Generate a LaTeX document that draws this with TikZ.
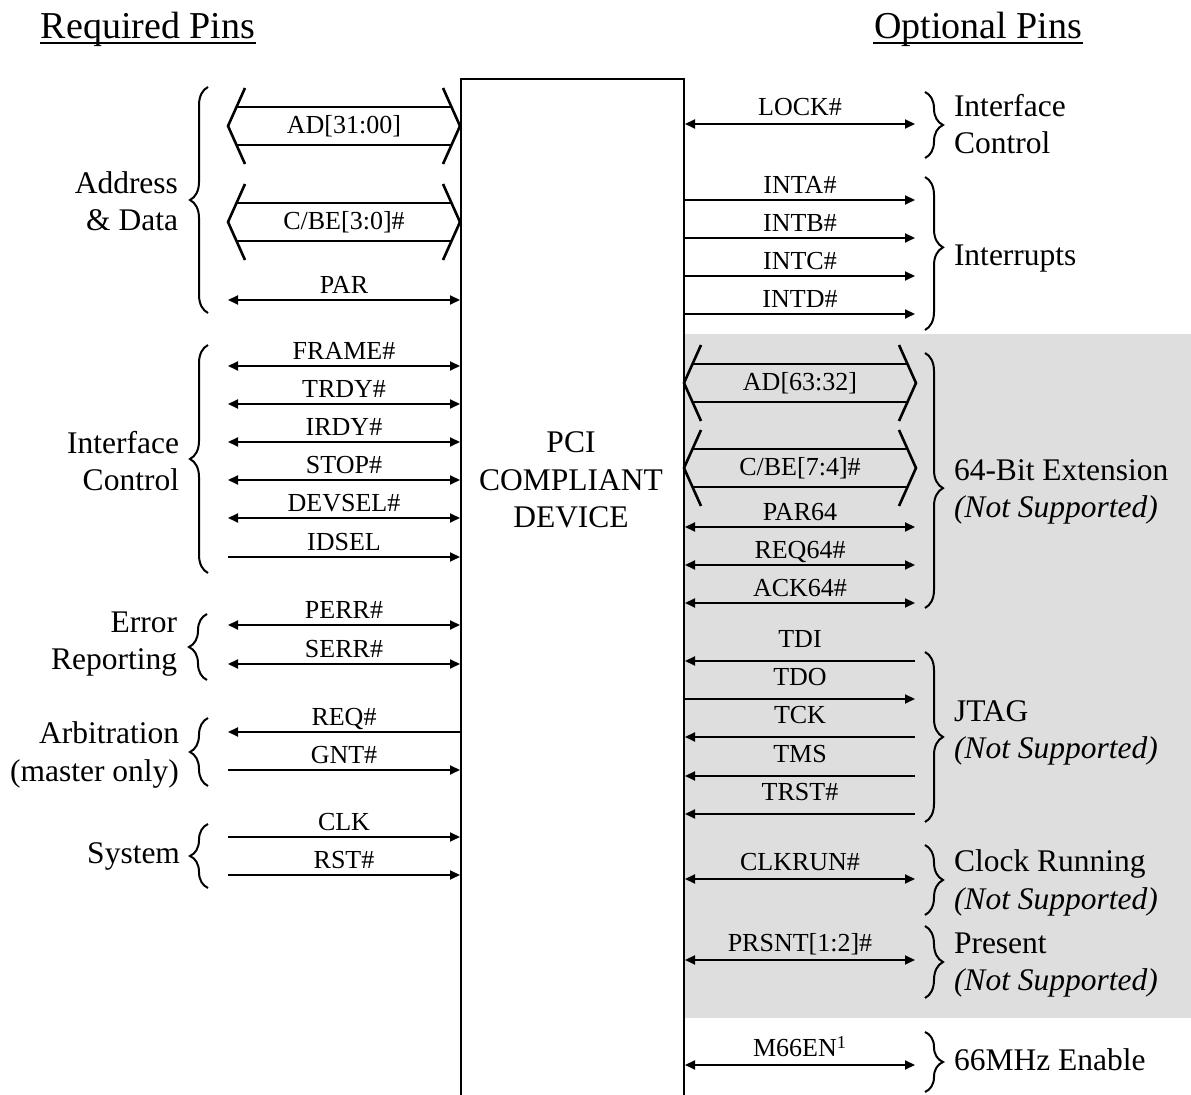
\documentclass[tikz,border=0pt]{standalone}
\usepackage{fontspec}
\setmainfont{Liberation Serif}
\usetikzlibrary{arrows.meta,decorations.pathreplacing}
\definecolor{optshade}{RGB}{222,222,222}

\begin{document}
\begin{tikzpicture}[x=0.5pt, y=-0.5pt, line width=1pt,
    >={Triangle[length=5pt,width=4.5pt]},
    signame/.style={midway, anchor=base, yshift=3pt, inner sep=0, font=\fontsize{13}{15}\selectfont},
    busname/.style={inner sep=0, font=\fontsize{13}{15}\selectfont},
    busline/.style={line width=1.3pt},
    header/.style={anchor=base, inner sep=0, font=\fontsize{19}{22}\selectfont},
    lgroup/.style={anchor=east, align=right, inner sep=0, font=\fontsize{15.75}{18.75}\selectfont},
    rgroup/.style={anchor=west, align=left, inner sep=0, font=\fontsize{15.75}{18.75}\selectfont},
    curly/.style={decorate, decoration={brace, amplitude=9pt}}]

                \useasboundingbox (0,0) rectangle (1191,1095);

                % optional pins that are not supported
                \fill[optshade] (683,334) rectangle (1191,1018);

                \node[draw, anchor=north west, inner sep=0, minimum width=111.5pt, minimum height=511pt] (dev) at (460,78) {};
                \node[align=center, font=\fontsize{15.75}{18.75}\selectfont] (pci) at (571,480) {PCI\\COMPLIANT\\DEVICE};

                \node[header] (req) at (148,39) {Required Pins};
                \draw ([yshift=-2pt]req.base west) -- ([yshift=-2pt]req.base east);
                \node[header] (opt) at (978,39) {Optional Pins};
                \draw ([yshift=-2pt]opt.base west) -- ([yshift=-2pt]opt.base east);

                % address & data
                \node[busname] (ad) at (344,126) {AD[31:00]};
                \draw[busline] (ad.center) ++(-99,-38) -- ++(-17,38) -- ++(17,38);
                \draw[busline] (ad.center) ++(99,-38) -- ++(17,38) -- ++(-17,38);
                \draw[busline] (ad.center) ++(-107.5,-19) -- ++(215,0);
                \draw[busline] (ad.center) ++(-107.5,19) -- ++(215,0);

                \node[busname] (cbe) at (344,222) {C/BE[3:0]\#};
                \draw[busline] (cbe.center) ++(-99,-38) -- ++(-17,38) -- ++(17,38);
                \draw[busline] (cbe.center) ++(99,-38) -- ++(17,38) -- ++(-17,38);
                \draw[busline] (cbe.center) ++(-107.5,-19) -- ++(215,0);
                \draw[busline] (cbe.center) ++(-107.5,19) -- ++(215,0);

                \coordinate (par) at (228,300);
                \draw[<->] (par) -- (par -| dev.west) node[signame] (parT) {PAR};

                % interface control
                \coordinate (frame) at (228,366);
                \draw[<->] (frame) -- (frame -| dev.west) node[signame] (frameT) {FRAME\#};
                \coordinate (trdy) at (228,404);
                \draw[<->] (trdy) -- (trdy -| dev.west) node[signame] (trdyT) {TRDY\#};
                \coordinate (irdy) at (228,442);
                \draw[<->] (irdy) -- (irdy -| dev.west) node[signame] (irdyT) {IRDY\#};
                \coordinate (stop) at (228,480);
                \draw[<->] (stop) -- (stop -| dev.west) node[signame] (stopT) {STOP\#};
                \coordinate (devsel) at (228,518);
                \draw[<->] (devsel) -- (devsel -| dev.west) node[signame] (devselT) {DEVSEL\#};
                \coordinate (idsel) at (228,557);
                \draw[->] (idsel) -- (idsel -| dev.west) node[signame] (idselT) {IDSEL};

                % error reporting
                \coordinate (perr) at (228,625);
                \draw[<->] (perr) -- (perr -| dev.west) node[signame] (perrT) {PERR\#};
                \coordinate (serr) at (228,664);
                \draw[<->] (serr) -- (serr -| dev.west) node[signame] (serrT) {SERR\#};

                % arbitration
                \coordinate (reqs) at (228,732);
                \draw[<-] (reqs) -- (reqs -| dev.west) node[signame] (reqsT) {REQ\#};
                \coordinate (gnt) at (228,770);
                \draw[->] (gnt) -- (gnt -| dev.west) node[signame] (gntT) {GNT\#};

                % system
                \coordinate (clk) at (228,837);
                \draw[->] (clk) -- (clk -| dev.west) node[signame] (clkT) {CLK};
                \coordinate (rst) at (228,875);
                \draw[->] (rst) -- (rst -| dev.west) node[signame] (rstT) {RST\#};

                % left groups
                \draw[curly] (208,313) -- (208,87);
                \node[lgroup] (addr) at (179,201) {Address\\\& Data};
                \draw[curly] (208,573) -- (208,345);
                \node[lgroup] (ifcL) at (180,461) {Interface\\Control};
                \draw[curly] (207,680) -- (207,614);
                \node[lgroup] (err) at (178,644) {Error\\Reporting};
                \draw[curly] (208,786) -- (208,718);
                \node[lgroup] (arb) at (180,755) {Arbitration\\(master only)};
                \draw[curly] (208,888) -- (208,824);
                \node[lgroup] (sys) at (181,856) {System};

                % right: interface control, interrupts
                \coordinate (lock) at (915,124);
                \draw[<->] (lock -| dev.east) -- (lock) node[signame, yshift=1pt] (lockT) {LOCK\#};
                \coordinate (inta) at (915,200);
                \draw[->] (inta -| dev.east) -- (inta) node[signame] (intaT) {INTA\#};
                \coordinate (intb) at (915,238);
                \draw[->] (intb -| dev.east) -- (intb) node[signame] (intbT) {INTB\#};
                \coordinate (intc) at (915,276);
                \draw[->] (intc -| dev.east) -- (intc) node[signame] (intcT) {INTC\#};
                \coordinate (intd) at (915,314);
                \draw[->] (intd -| dev.east) -- (intd) node[signame] (intdT) {INTD\#};

                % 64-bit extension
                \node[busname] (adhi) at (800,383) {AD[63:32]};
                \draw[busline] (adhi.center) ++(-99,-38) -- ++(-17,38) -- ++(17,38);
                \draw[busline] (adhi.center) ++(99,-38) -- ++(17,38) -- ++(-17,38);
                \draw[busline] (adhi.center) ++(-107.5,-19) -- ++(215,0);
                \draw[busline] (adhi.center) ++(-107.5,19) -- ++(215,0);

                \node[busname] (cbehi) at (800,468) {C/BE[7:4]\#};
                \draw[busline] (cbehi.center) ++(-99,-38) -- ++(-17,38) -- ++(17,38);
                \draw[busline] (cbehi.center) ++(99,-38) -- ++(17,38) -- ++(-17,38);
                \draw[busline] (cbehi.center) ++(-107.5,-19) -- ++(215,0);
                \draw[busline] (cbehi.center) ++(-107.5,19) -- ++(215,0);

                \coordinate (parhi) at (915,527);
                \draw[<->] (parhi -| dev.east) -- (parhi) node[signame] (parhiT) {PAR64};
                \coordinate (reqhi) at (915,565);
                \draw[<->] (reqhi -| dev.east) -- (reqhi) node[signame] (reqhiT) {REQ64\#};
                \coordinate (ackhi) at (915,603);
                \draw[<->] (ackhi -| dev.east) -- (ackhi) node[signame] (ackhiT) {ACK64\#};

                % jtag
                \coordinate (tdi) at (915,661);
                \draw[<-] (tdi -| dev.east) -- (tdi) node[signame, yshift=3.5pt] (tdiT) {TDI};
                \coordinate (tdo) at (915,699);
                \draw[->] (tdo -| dev.east) -- (tdo) node[signame, yshift=3.5pt] (tdoT) {TDO};
                \coordinate (tck) at (915,737);
                \draw[<-] (tck -| dev.east) -- (tck) node[signame, yshift=3.5pt] (tckT) {TCK};
                \coordinate (tms) at (915,776);
                \draw[<-] (tms -| dev.east) -- (tms) node[signame, yshift=3.5pt] (tmsT) {TMS};
                \coordinate (trst) at (915,814);
                \draw[<-] (trst -| dev.east) -- (trst) node[signame, yshift=3.5pt] (trstT) {TRST\#};

                % clock running, present, 66 MHz
                \coordinate (clkrun) at (915,879);
                \draw[<->] (clkrun -| dev.east) -- (clkrun) node[signame, yshift=1pt] (clkrunT) {CLKRUN\#};
                \coordinate (prsnt) at (915,960);
                \draw[<->] (prsnt -| dev.east) -- (prsnt) node[signame, yshift=1pt] (prsntT) {PRSNT[1:2]\#};
                \coordinate (men) at (915,1065);
                \draw[<->] (men -| dev.east) -- (men) node[signame, yshift=1pt] (menT) {M66EN\textsuperscript{1}};

                % right groups
                \draw[curly] (925,92) -- (925,158);
                \node[rgroup] (ifcR) at (953,124) {Interface\\Control};
                \draw[curly, decoration={aspect=0.46}] (925,177) -- (925,330);
                \node[rgroup] (intr) at (953,259) {Interrupts};
                \draw[curly, decoration={aspect=0.53}] (925,353) -- (925,608);
                \node[rgroup] (ext) at (953,492) {64-Bit Extension\\\textit{(Not Supported)}};
                \draw[curly] (925,652) -- (925,822);
                \node[rgroup] (jtag) at (953,733) {JTAG\\\textit{(Not Supported)}};
                \draw[curly] (925,845) -- (925,915);
                \node[rgroup] (clkgrp) at (953,883) {Clock Running\\\textit{(Not Supported)}};
                \draw[curly] (925,926) -- (925,998);
                \node[rgroup] (prsgrp) at (953,965) {Present\\\textit{(Not Supported)}};
                \draw[curly] (925,1032) -- (925,1092);
                \node[rgroup] (mgrp) at (953,1060) {66MHz Enable};
\end{tikzpicture}
\end{document}
